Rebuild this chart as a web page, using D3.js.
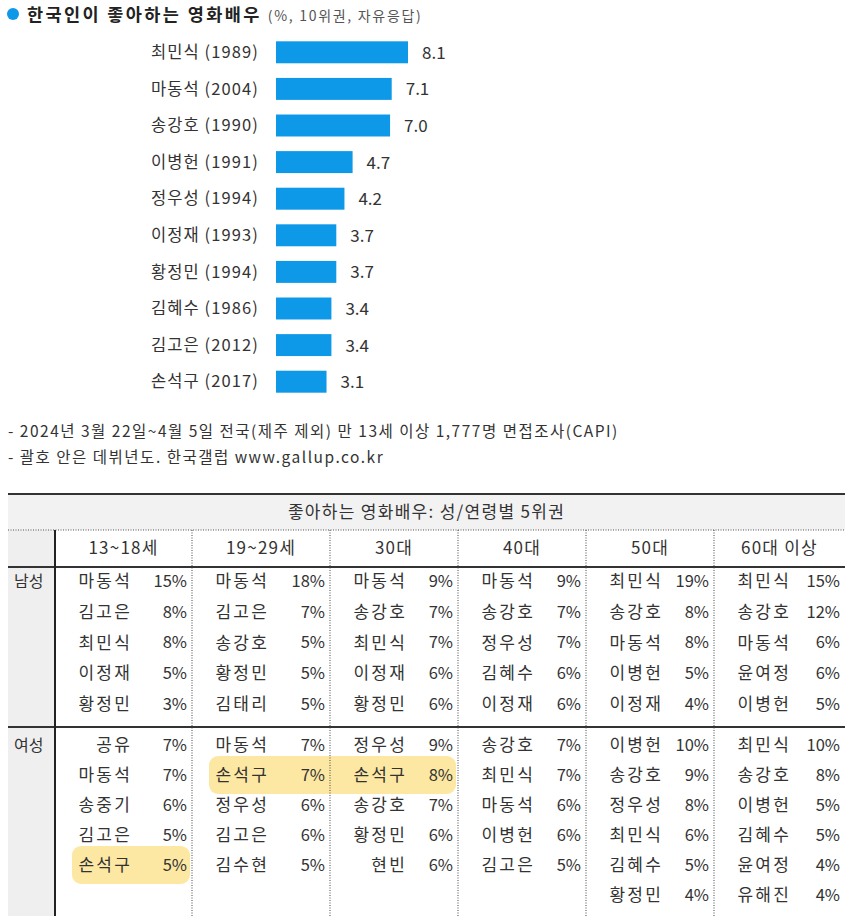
<!DOCTYPE html>
<html><head><meta charset="utf-8">
<script src="https://cdn.jsdelivr.net/npm/d3@7"></script>
<style>
body{margin:0;background:#fff;}
svg{display:block;font-family:"Noto Sans CJK KR","Noto Sans",sans-serif;}
</style></head>
<body><svg id="c" width="850" height="916"></svg>
<script>
// ---- data ----
const actors = ["최민식","마동석","송강호","이병헌","정우성","이정재","황정민","김혜수","김고은","손석구"];
const debutYears = [1989,2004,1990,1991,1994,1993,1994,1986,2012,2017];
const shares = [8.1,7.1,7.0,4.7,4.2,3.7,3.7,3.4,3.4,3.1];

const ageGroups = ["13~18세","19~29세","30대","40대","50대","60대 이상"];
const maleNames = [
  ["마동석","김고은","최민식","이정재","황정민"],
  ["마동석","김고은","송강호","황정민","김태리"],
  ["마동석","송강호","최민식","이정재","황정민"],
  ["마동석","송강호","정우성","김혜수","이정재"],
  ["최민식","송강호","마동석","이병헌","이정재"],
  ["최민식","송강호","마동석","윤여정","이병헌"]
];
const malePcts = [
  [15,8,8,5,3],[18,7,5,5,5],[9,7,7,6,6],[9,7,7,6,6],[19,8,8,5,4],[15,12,6,6,5]
];
const femaleNames = [
  ["공유","마동석","송중기","김고은","손석구"],
  ["마동석","손석구","정우성","김고은","김수현"],
  ["정우성","손석구","송강호","황정민","현빈"],
  ["송강호","최민식","마동석","이병헌","김고은"],
  ["이병헌","송강호","정우성","최민식","김혜수","황정민"],
  ["최민식","송강호","이병헌","김혜수","윤여정","유해진"]
];
const femalePcts = [
  [7,7,6,5,5],[7,7,6,6,5],[9,8,7,6,6],[7,7,6,6,5],[10,9,8,6,5,4],[10,8,5,5,4,4]
];
const notes = [
  "- 2024년 3월 22일~4월 5일 전국(제주 제외) 만 13세 이상 1,777명 면접조사(CAPI)",
  "- 괄호 안은 데뷔년도. 한국갤럽 www.gallup.co.kr"
];
const titleMain = "한국인이 좋아하는 영화배우";
const titleSub = "(%, 10위권, 자유응답)";
const tableTitle = "좋아하는 영화배우: 성/연령별 5위권";
const genders = ["남성","여성"];
const highlights = [ // [gender, ageIndexStart, ageIndexEnd, rank]
  ["여성",0,0,4],["여성",1,2,1]
];

// ---- drawing ----
const svg = d3.select("#c");
const blue = "#0d98e8", ink = "#333";

// title
svg.append("circle").attr("cx",13).attr("cy",14).attr("r",6).attr("fill",blue);
const tt = svg.append("text").attr("x",27).attr("y",21).attr("fill","#222");
tt.append("tspan").attr("font-size",17.5).attr("font-weight",700).attr("letter-spacing",2.4).text(titleMain);
tt.append("tspan").attr("font-size",14).attr("fill","#555").attr("dx",6).attr("letter-spacing",1.7).text(titleSub);

// bar chart
const x = d3.scaleLinear().domain([0,8.1]).range([276,408]);
const y = d3.scaleBand().domain(actors).range([34,400]).paddingInner(0.4).paddingOuter(0.2);
const bars = svg.append("g");
bars.selectAll("rect").data(actors).join("rect")
  .attr("x",x(0)).attr("y",d=>y(d)).attr("height",y.bandwidth())
  .attr("width",(d,i)=>x(shares[i])-x(0)).attr("fill",blue);
bars.selectAll("text.lab").data(actors).join("text").attr("class","lab")
  .attr("x",259).attr("y",d=>y(d)+y.bandwidth()/2).attr("dy","0.35em")
  .attr("text-anchor","end").attr("font-size",16.5).attr("letter-spacing",1.1).attr("fill",ink)
  .text((d,i)=>`${d} (${debutYears[i]})`);
bars.selectAll("text.val").data(actors).join("text").attr("class","val")
  .attr("x",(d,i)=>x(shares[i])+14).attr("y",d=>y(d)+y.bandwidth()/2).attr("dy","0.38em")
  .attr("font-size",17).attr("fill",ink)
  .text((d,i)=>shares[i].toFixed(1));

// notes
svg.selectAll("text.note").data(notes).join("text").attr("class","note")
  .attr("x",8).attr("y",(d,i)=>437+i*26).attr("font-size",15.5).attr("letter-spacing",1.5)
  .attr("fill",ink).text(d=>d);

// table
const T = {left:8,right:845,top:494,head1:530,head2:567,mid:727,bottom:916,labelCol:55};
const colX = d3.scaleOrdinal().domain(ageGroups).range([55,192,330,458,586,714]);
const colEnd = a => { const i = ageGroups.indexOf(a); return i<ageGroups.length-1 ? colX(ageGroups[i+1]) : T.right; };
const rowY = {
  "남성": d3.scaleLinear().domain([0,1]).range([581,611.8]),
  "여성": d3.scaleLinear().domain([0,1]).range([745,775])
};
const tbl = svg.append("g");
// backgrounds
tbl.append("rect").attr("x",T.left).attr("y",T.top).attr("width",T.right-T.left).attr("height",T.head1-T.top).attr("fill","#f2f2f2");
tbl.append("rect").attr("x",T.left).attr("y",T.head1).attr("width",T.labelCol-T.left).attr("height",T.bottom-T.head1).attr("fill","#efefef");
// highlights
highlights.forEach(([g,a0,a1,r])=>{
  const x0 = colX(ageGroups[a0])+17, x1 = colEnd(ageGroups[a1])-2;
  const yy = rowY[g](r);
  tbl.append("rect").attr("x",x0).attr("y",yy-19).attr("width",x1-x0).attr("height",38)
    .attr("rx",9).attr("fill","#fbd966").attr("opacity",0.6);
});
// lines
const line = (x1,y1,x2,y2,w,c,dash)=>tbl.append("line").attr("x1",x1).attr("y1",y1).attr("x2",x2).attr("y2",y2)
  .attr("stroke",c).attr("stroke-width",w).attr("stroke-dasharray",dash||null);
line(T.left,T.top,T.right,T.top,2,"#333");
line(T.left,T.head1,T.right,T.head1,1,"#555","1,1.5");
line(T.left,T.head2,T.right,T.head2,2,"#333");
line(T.left,T.mid,T.right,T.mid,2,"#333");
line(T.labelCol,T.head1,T.labelCol,T.bottom,2,"#222");
ageGroups.slice(1).forEach(a=>line(colX(a),T.head1,colX(a),T.bottom,1,"#444","1,1.5"));
// texts
tbl.append("text").attr("x",(T.left+T.right)/2).attr("y",(T.top+T.head1)/2).attr("dy","0.35em")
  .attr("text-anchor","middle").attr("font-size",17).attr("letter-spacing",1.3).attr("fill",ink).text(tableTitle);
tbl.selectAll("text.age").data(ageGroups).join("text").attr("class","age")
  .attr("x",a=>(colX(a)+colEnd(a))/2).attr("y",(T.head1+T.head2)/2).attr("dy","0.35em")
  .attr("text-anchor","middle").attr("font-size",17).attr("letter-spacing",1.2).attr("fill",ink).text(a=>a);
genders.forEach(g=>{
  tbl.append("text").attr("x",14).attr("y",rowY[g](0)).attr("dy","0.35em")
    .attr("font-size",16).attr("fill",ink).text(g);
  const names = g==="남성"?maleNames:femaleNames, pcts = g==="남성"?malePcts:femalePcts;
  ageGroups.forEach((a,ai)=>{
    const cg = tbl.append("g");
    cg.selectAll("text.n").data(names[ai]).join("text").attr("class","n")
      .attr("x",colX(a)+77).attr("y",(d,i)=>rowY[g](i)).attr("dy","0.35em")
      .attr("text-anchor","end").attr("font-size",17).attr("letter-spacing",2.2).attr("fill",ink).text(d=>d);
    cg.selectAll("text.p").data(pcts[ai]).join("text").attr("class","p")
      .attr("x",colEnd(a)-5).attr("y",(d,i)=>rowY[g](i)).attr("dy","0.35em")
      .attr("text-anchor","end").attr("font-size",16.5).attr("fill",ink).text(d=>d+"%");
  });
});
</script></body></html>
